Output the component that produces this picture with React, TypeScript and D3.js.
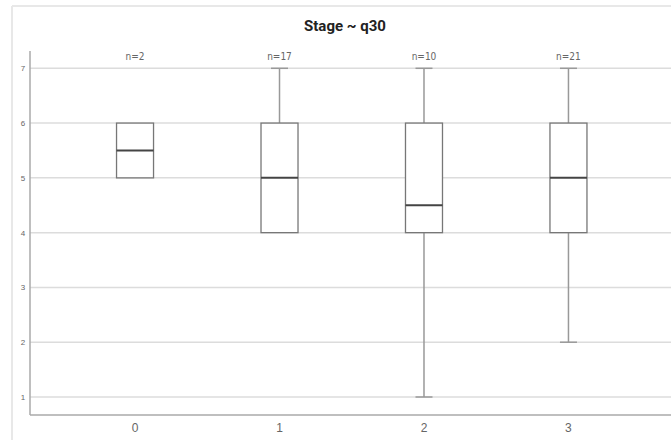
import React from "react";
import * as d3 from "d3";

const categories = ["0", "1", "2", "3"];
const counts = [2, 17, 10, 21];
const mins = [5, 4, 1, 2];
const q1s = [5, 4, 4, 4];
const medians = [5.5, 5, 4.5, 5];
const q3s = [6, 6, 6, 6];
const maxs = [6, 7, 7, 7];
const yTicks = [1, 2, 3, 4, 5, 6, 7];
const title = "Stage ~ q30";

const W = 671;
const H = 440;

export default function App() {
  const x = d3.scalePoint<string>().domain(categories).range([30, 673.5]).padding(0.727);
  const y = d3.scaleLinear().domain([1, 7]).range([397, 68.3]);
  const axisX = 30;
  const axisBottom = 415;
  const axisTop = 51;
  const boxW = 37;
  const capW = 17;

  return (
    <svg width={W} height={H} style={{ position: "absolute", left: 0, top: 0, background: "#fff" }}>
      <line x1={12} y1={6} x2={W} y2={6} stroke="#e8e8e8" strokeWidth={2} />
      <line x1={12} y1={6} x2={12} y2={H} stroke="#e8e8e8" strokeWidth={2} />
      <text x={345} y={31} textAnchor="middle" fontFamily="Roboto, Liberation Sans, Arial, sans-serif" fontWeight="bold" fontSize={15} fill="#222">
        {title}
      </text>
      {yTicks.map((t) => (
        <line key={"g" + t} x1={axisX} x2={W} y1={y(t)} y2={y(t)} stroke="#dcdcdc" strokeWidth={1.5} />
      ))}
      <line x1={axisX} x2={axisX} y1={axisTop} y2={axisBottom} stroke="#aaa" strokeWidth={1.5} />
      <line x1={axisX} x2={W} y1={axisBottom} y2={axisBottom} stroke="#aaa" strokeWidth={1.5} />
      {yTicks.map((t) => (
        <text key={"yt" + t} x={23} y={y(t) + 3} textAnchor="middle" fontFamily="Liberation Sans, Arial, sans-serif" fontSize={8} fill="#666">
          {t}
        </text>
      ))}
      {categories.map((c) => (
        <text key={"xt" + c} x={x(c)} y={432} textAnchor="middle" fontFamily="Liberation Sans, Arial, sans-serif" fontSize={12} fill="#666">
          {c}
        </text>
      ))}
      {categories.map((c, i) => {
        const cx = x(c) as number;
        return (
          <g key={"b" + c}>
            <text x={cx} y={60} textAnchor="middle" fontFamily="DejaVu Sans Condensed, Liberation Sans, Arial, sans-serif" fontSize={10} fill="#666">
              {"n=" + counts[i]}
            </text>
            {maxs[i] > q3s[i] && (
              <g>
                <line x1={cx} x2={cx} y1={y(maxs[i])} y2={y(q3s[i])} stroke="#999" strokeWidth={1.5} />
                <line x1={cx - capW / 2} x2={cx + capW / 2} y1={y(maxs[i])} y2={y(maxs[i])} stroke="#999" strokeWidth={1.5} />
              </g>
            )}
            {mins[i] < q1s[i] && (
              <g>
                <line x1={cx} x2={cx} y1={y(q1s[i])} y2={y(mins[i])} stroke="#999" strokeWidth={1.5} />
                <line x1={cx - capW / 2} x2={cx + capW / 2} y1={y(mins[i])} y2={y(mins[i])} stroke="#999" strokeWidth={1.5} />
              </g>
            )}
            <rect x={cx - boxW / 2} y={y(q3s[i])} width={boxW} height={y(q1s[i]) - y(q3s[i])} fill="#fff" stroke="#777" strokeWidth={1.3} />
            <line x1={cx - boxW / 2} x2={cx + boxW / 2} y1={y(medians[i])} y2={y(medians[i])} stroke="#444" strokeWidth={2} />
          </g>
        );
      })}
    </svg>
  );
}
